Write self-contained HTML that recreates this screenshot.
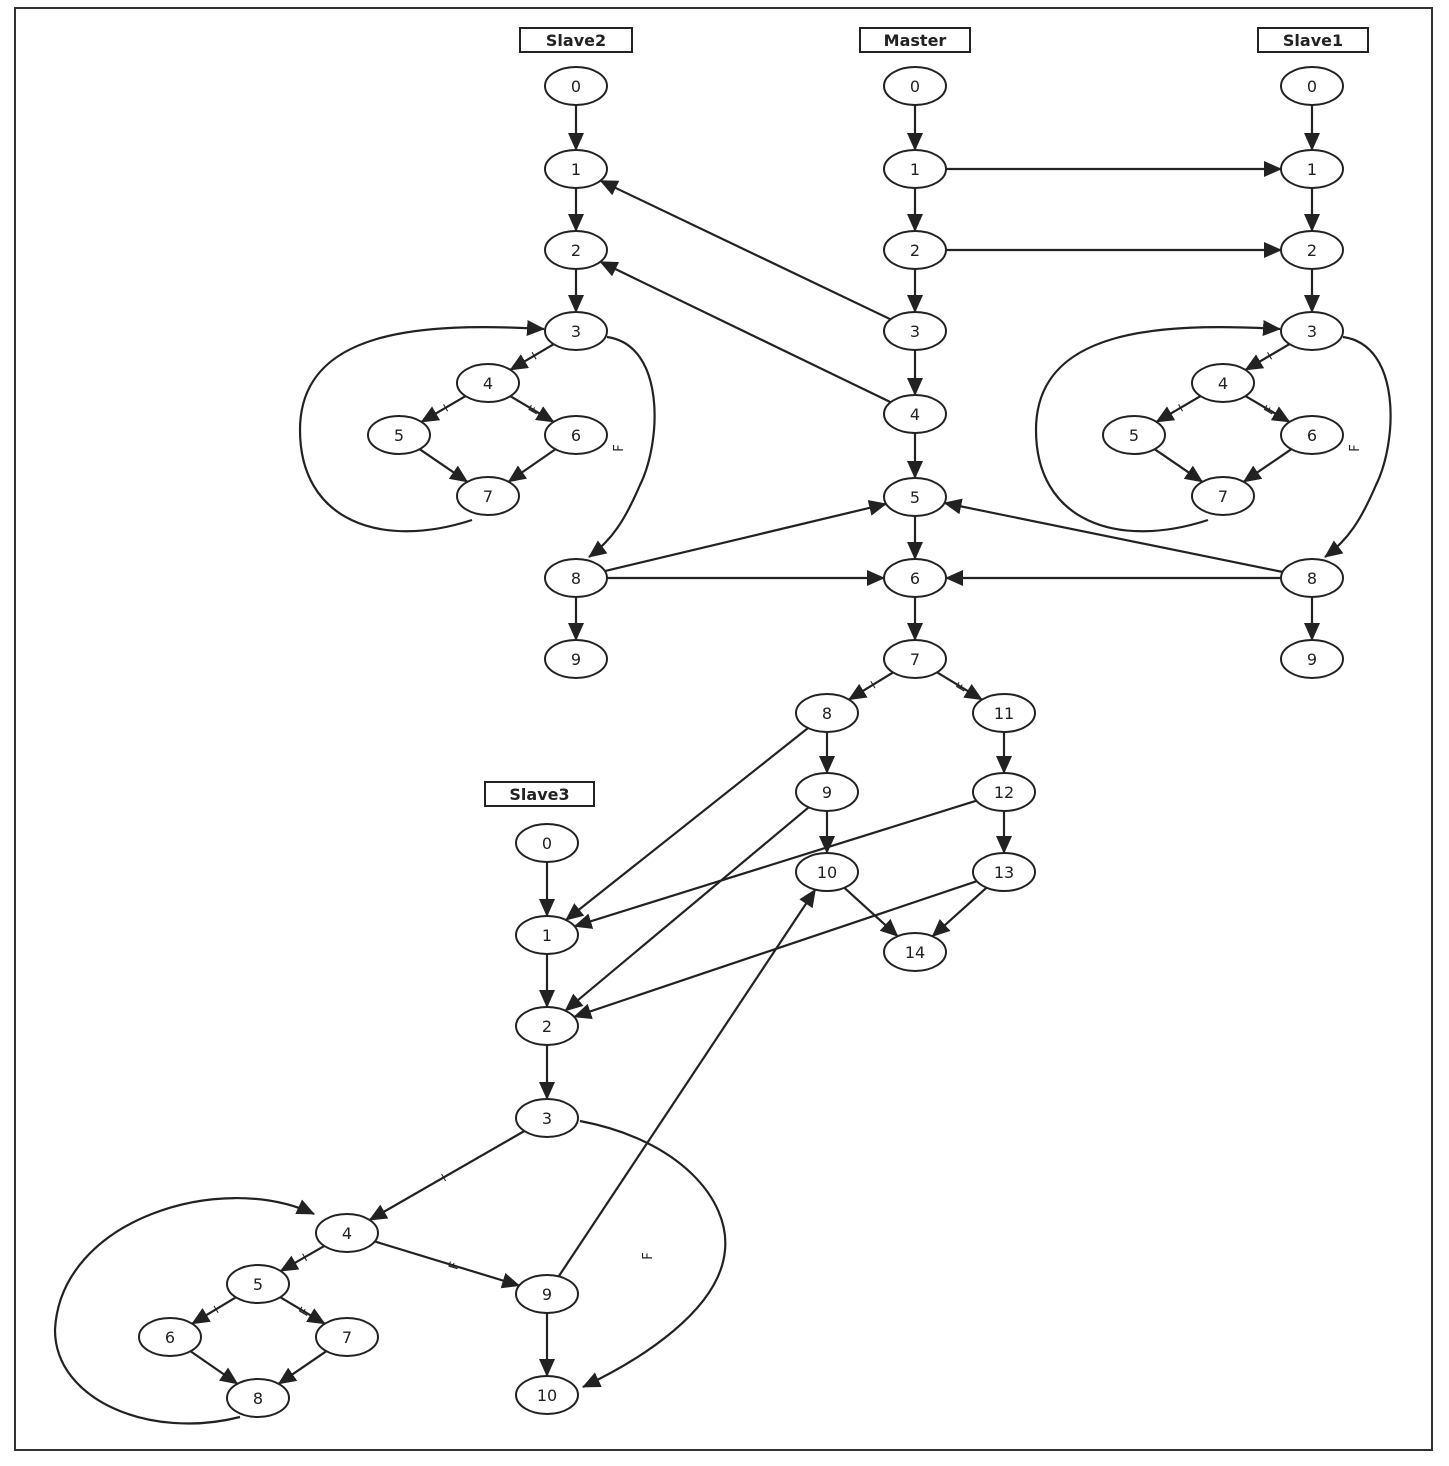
<!DOCTYPE html>
<html><head><meta charset="utf-8"><style>
html,body{margin:0;padding:0;background:#fff;}
svg{display:block;}
text{font-family:"DejaVu Sans","Liberation Sans",sans-serif;}
</style></head><body>
<svg id="s" width="1449" height="1466" viewBox="0 0 1449 1466" xmlns="http://www.w3.org/2000/svg">
<defs>
<marker id="a" markerWidth="10" markerHeight="10" refX="9" refY="5" orient="auto" markerUnits="userSpaceOnUse" viewBox="0 0 10 10">
<path d="M0,0 L10,5 L0,10 z" fill="#222"/></marker>
<marker id="b" markerWidth="18" markerHeight="16" refX="17" refY="8" orient="auto" markerUnits="userSpaceOnUse" viewBox="0 0 18 16">
<path d="M0,0 L18,8 L0,16 z" fill="#222"/></marker>
</defs>
<rect x="15" y="8" width="1417" height="1442" fill="none" stroke="#333" stroke-width="2"/>
<g id="g" stroke="#222" stroke-width="2.2" fill="none"></g>
<g id="n"></g>
</svg>
<script>
var N={};
function add(id,x,y,l){N[id]=[x,y,l];}
[[86,0],[169,1],[250,2],[331,3]].forEach(function(p){add('s2_'+p[1],576,p[0],p[1]);add('s1_'+p[1],1312,p[0],p[1]);});
add('s2_4',488,383,4);add('s2_5',399,435,5);add('s2_6',576,435,6);add('s2_7',488,496,7);add('s2_8',576,578,8);add('s2_9',576,659,9);
add('s1_4',1223,383,4);add('s1_5',1134,435,5);add('s1_6',1312,435,6);add('s1_7',1223,496,7);add('s1_8',1312,578,8);add('s1_9',1312,659,9);
[86,169,250,331,414,497,578,659].forEach(function(y,i){add('m_'+i,915,y,i);});
add('m_8',827,713,8);add('m_11',1004,713,11);add('m_9',827,792,9);add('m_12',1004,792,12);add('m_10',827,872,10);add('m_13',1004,872,13);add('m_14',915,952,14);
add('s3_0',547,843,0);add('s3_1',547,935,1);add('s3_2',547,1026,2);add('s3_3',547,1118,3);add('s3_4',347,1233,4);add('s3_5',258,1284,5);add('s3_6',170,1337,6);add('s3_7',347,1337,7);add('s3_8',258,1398,8);add('s3_9',547,1294,9);add('s3_10',547,1395,10);
var RX=31,RY=19;
var g=document.getElementById('g'),nn=document.getElementById('n'),NS='http://www.w3.org/2000/svg';
function el(t,at,par,txt){var e=document.createElementNS(NS,t);for(var k in at)e.setAttribute(k,at[k]);if(txt!==undefined)e.textContent=txt;par.appendChild(e);return e;}
function trim(c,dx,dy){var t=1/Math.sqrt((dx*dx)/(RX*RX)+(dy*dy)/(RY*RY));return [c[0]+dx*t,c[1]+dy*t];}
function E(a,b,big,lab){var A=N[a],B=N[b],dx=B[0]-A[0],dy=B[1]-A[1];var p=trim(A,dx,dy),q=trim(B,-dx,-dy);
el('line',{x1:p[0],y1:p[1],x2:q[0],y2:q[1],'marker-end':big?'url(#b)':'url(#a)'},g);
if(lab){var mx=q[0]-(q[0]-p[0])*0.45,my=q[1]-(q[1]-p[1])*0.45;var ang=Math.atan2(dy,dx)*180/Math.PI;
el('text',{x:mx,y:my+4,'font-size':13,'text-anchor':'middle',fill:'#222',stroke:'none',transform:'rotate('+(ang-90)+' '+mx+' '+my+')'},g,lab);}}
function V(a,b){E(a,b,true);}
['s2_','s1_'].forEach(function(s){V(s+0,s+1);V(s+1,s+2);V(s+2,s+3);E(s+3,s+4,true,'T');E(s+4,s+5,true,'T');E(s+4,s+6,true,'F');E(s+5,s+7,true);E(s+6,s+7,true);V(s+8,s+9);});
for(var i=0;i<7;i++)V('m_'+i,'m_'+(i+1));
E('m_7','m_8',true,'T');E('m_7','m_11',true,'F');V('m_8','m_9');V('m_9','m_10');V('m_11','m_12');V('m_12','m_13');E('m_10','m_14',true);E('m_13','m_14',true);
V('s3_0','s3_1');V('s3_1','s3_2');V('s3_2','s3_3');E('s3_3','s3_4',true,'T');E('s3_4','s3_5',true,'T');E('s3_5','s3_6',true,'T');E('s3_5','s3_7',true,'F');E('s3_6','s3_8',true);E('s3_7','s3_8',true);E('s3_4','s3_9',true,'F');V('s3_9','s3_10');
E('m_1','s1_1',true);E('m_2','s1_2',true);E('m_3','s2_1',true);E('m_4','s2_2',true);
E('s2_8','m_5',true);E('s2_8','m_6',true);E('s1_8','m_5',true);E('s1_8','m_6',true);
E('m_8','s3_1',true);E('m_12','s3_1',true);E('m_9','s3_2',true);E('m_13','s3_2',true);E('s3_9','m_10',true);
function P(d){el('path',{d:d,'marker-end':'url(#b)'},g);}
function Pd(o){P('M'+(472+o)+',520 C'+(380+o)+',550 '+(300+o)+',520 '+(300+o)+',430 C'+(300+o)+',330 '+(420+o)+',322 '+(544+o)+',329');
P('M'+(607+o)+',337 C'+(665+o)+',345 '+(662+o)+',440 '+(640+o)+',485 C'+(625+o)+',520 '+(612+o)+',540 '+(589+o)+',557');
el('text',{x:623+o,y:448,'font-size':13,fill:'#222',stroke:'none',transform:'rotate(-90 '+(623+o)+' 448)','text-anchor':'middle'},g,'F');}
Pd(0);Pd(736);
P('M240,1417 C150,1440 55,1400 55,1330 C60,1220 220,1170 314,1214');
P('M580,1121 C680,1140 730,1200 725,1250 C720,1310 640,1360 583,1387');
el('text',{x:652,y:1256,'font-size':13,fill:'#222',stroke:'none',transform:'rotate(-90 652 1256)','text-anchor':'middle'},g,'F');
for(var k in N){var c=N[k];el('ellipse',{cx:c[0],cy:c[1],rx:RX,ry:RY,fill:'#fff',stroke:'#222','stroke-width':2},nn);
el('text',{x:c[0],y:c[1]+6,'font-size':16,'text-anchor':'middle',fill:'#222'},nn,c[2]);}
[['Slave2',520,28,112],['Master',860,28,110],['Slave1',1258,28,110],['Slave3',485,782,109]].forEach(function(b){
el('rect',{x:b[1],y:b[2],width:b[3],height:24,fill:'#fff',stroke:'#222','stroke-width':2},nn);
el('text',{x:b[1]+b[3]/2,y:b[2]+18,'font-size':16,'font-weight':'bold','text-anchor':'middle',fill:'#222'},nn,b[0]);});
</script>
</body></html>
